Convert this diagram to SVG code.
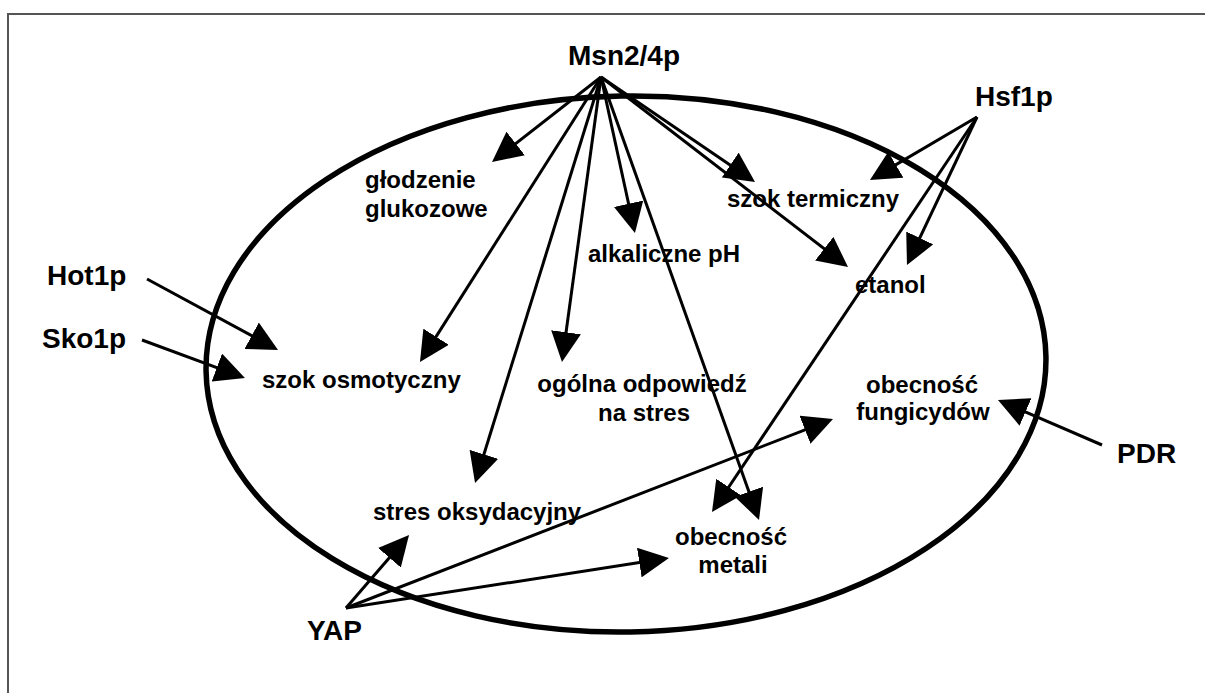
<svg xmlns="http://www.w3.org/2000/svg" width="1205" height="693" viewBox="0 0 1205 693">
<defs>
<style>
.reg{font-family:"Liberation Sans",Arial,sans-serif;font-weight:bold;font-size:28px;fill:#000}
.lbl{font-family:"Liberation Sans",Arial,sans-serif;font-weight:bold;font-size:24px;fill:#000}
.c{text-anchor:middle}
.ln{stroke:#000;stroke-width:3;fill:none;marker-end:url(#ah)}
</style>
<marker id="ah" markerUnits="userSpaceOnUse" viewBox="0 0 30 30" refX="18" refY="15" markerWidth="30" markerHeight="30" orient="auto">
<path d="M0,0 L30,15 L0,30 z" fill="#000"/>
</marker>
</defs>
<rect width="1205" height="693" fill="#fff"/>
<rect x="8" y="14" width="1300" height="800" fill="none" stroke="#555" stroke-width="2"/>
<ellipse cx="626" cy="364" rx="420" ry="268" fill="none" stroke="#000" stroke-width="5.5" transform="rotate(-1 626 364)"/>

<g id="connectors">
<line class="ln" x1="601" y1="77" x2="501.5" y2="154.6"/>
<line class="ln" x1="601" y1="77" x2="426.4" y2="351.9"/>
<line class="ln" x1="601" y1="77" x2="478.6" y2="471.5"/>
<line class="ln" x1="601" y1="77" x2="563.6" y2="350.1"/>
<line class="ln" x1="601" y1="77" x2="632.4" y2="221.3"/>
<line class="ln" x1="601" y1="77" x2="755" y2="508.7"/>
<line class="ln" x1="601" y1="77" x2="745.1" y2="175.2"/>
<line class="ln" x1="601" y1="77" x2="838.5" y2="259.7"/>
<line class="ln" x1="977" y1="117" x2="880.3" y2="173.9"/>
<line class="ln" x1="977" y1="117" x2="912.1" y2="254.2"/>
<line class="ln" x1="977" y1="117" x2="718.7" y2="502"/>
<line class="ln" x1="147" y1="279" x2="267.5" y2="344.3"/>
<line class="ln" x1="142" y1="340" x2="233.7" y2="373.8"/>
<line class="ln" x1="1102" y1="445" x2="1009" y2="404.8"/>
<line class="ln" x1="346" y1="608" x2="401.2" y2="544.1"/>
<line class="ln" x1="346" y1="608" x2="821.8" y2="423.3"/>
<line class="ln" x1="346" y1="608" x2="657.1" y2="559.8"/>
</g>

<g id="msn"><text class="reg c" x="624" y="65">Msn2/4p</text></g>
<g id="hsf"><text class="reg" x="975" y="106">Hsf1p</text></g>
<g id="hot"><text class="reg" x="47" y="285">Hot1p</text></g>
<g id="sko"><text class="reg" x="42" y="348">Sko1p</text></g>
<g id="pdr"><text class="reg" x="1117" y="463">PDR</text></g>
<g id="yap"><text class="reg" x="307" y="640">YAP</text></g>

<g id="glodzenie"><text class="lbl" x="365" y="188">głodzenie</text><text class="lbl" x="365" y="217">glukozowe</text></g>
<g id="szok-termiczny"><text class="lbl" x="727" y="207">szok termiczny</text></g>
<g id="alkaliczne"><text class="lbl" x="588" y="262">alkaliczne pH</text></g>
<g id="etanol"><text class="lbl" x="855" y="293">etanol</text></g>
<g id="szok-osmotyczny"><text class="lbl" x="262" y="388">szok osmotyczny</text></g>
<g id="ogolna"><text class="lbl c" x="642" y="392">ogólna odpowiedź</text><text class="lbl c" x="644" y="421">na stres</text></g>
<g id="fungicydy"><text class="lbl c" x="922" y="393">obecność</text><text class="lbl c" x="923" y="420">fungicydów</text></g>
<g id="stres-oksydacyjny"><text class="lbl" x="373" y="520">stres oksydacyjny</text></g>
<g id="metale"><text class="lbl c" x="731" y="545">obecność</text><text class="lbl c" x="733" y="573">metali</text></g>
</svg>
